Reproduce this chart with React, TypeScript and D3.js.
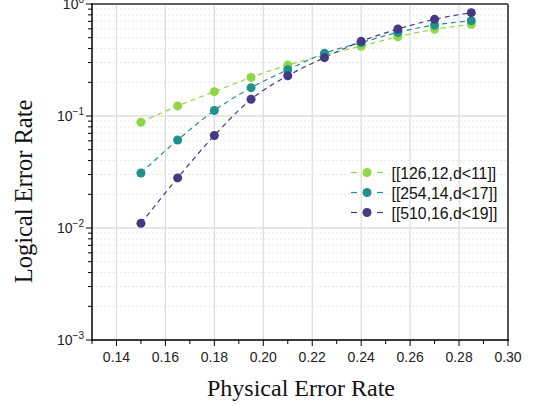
import React from "react";
import * as d3 from "d3";

const xs = [0.15, 0.165, 0.18, 0.195, 0.21, 0.225, 0.24, 0.255, 0.27, 0.285];
const s126 = [0.088, 0.123, 0.165, 0.221, 0.285, 0.35, 0.42, 0.51, 0.594, 0.659];
const s254 = [0.031, 0.061, 0.112, 0.179, 0.259, 0.363, 0.452, 0.558, 0.649, 0.71];
const s510 = [0.011, 0.028, 0.067, 0.141, 0.229, 0.332, 0.464, 0.598, 0.73, 0.837];
const labels = ["[[126,12,d<11]]", "[[254,14,d<17]]", "[[510,16,d<19]]"];
const colors = ["#8fd744", "#21918c", "#443983"];
const xTicks = [0.14, 0.16, 0.18, 0.2, 0.22, 0.24, 0.26, 0.28, 0.3];
const yDecades = [0, -1, -2, -3];

export default function App() {
  const W = 539, H = 406;
  const L = 92, R = 508, T = 4, B = 340;
  const x = d3.scaleLinear().domain([0.13, 0.3]).range([L, R]);
  const y = d3.scaleLog().domain([1e-3, 1]).range([B, T]);
  const series = [s126, s254, s510];
  const line = d3.line<number>().x((_, i) => x(xs[i])).y((v) => y(v)).curve(d3.curveMonotoneX);
  const minorY: number[] = [];
  for (let e = -3; e < 0; e++) for (let k = 2; k <= 9; k++) minorY.push(k * Math.pow(10, e));
  const minorX = d3.range(13, 31).map((v) => v / 100);
  const sans = "Liberation Sans, Arial, sans-serif";
  const serif = "Liberation Serif, Times New Roman, serif";
  return (
    <svg width={W} height={H} style={{ position: "absolute", left: 0, top: 0 }}>
      <rect width={W} height={H} fill="#fff" />
      {minorY.map((v, i) => (
        <line key={"my" + i} x1={L} x2={R} y1={y(v)} y2={y(v)} stroke="#e3e3e3" strokeWidth={0.8} strokeDasharray="2,2" />
      ))}
      {yDecades.map((e) => (
        <line key={"gy" + e} x1={L} x2={R} y1={y(Math.pow(10, e))} y2={y(Math.pow(10, e))} stroke="#cfcfcf" strokeWidth={1} />
      ))}
      {xTicks.map((t) => (
        <line key={"gx" + t} x1={x(t)} x2={x(t)} y1={T} y2={B} stroke="#dcdcdc" strokeWidth={1.2} />
      ))}
      {series.map((s, si) => (
        <path key={"l" + si} d={line(s) || ""} fill="none" stroke={colors[si]} strokeWidth={1.2} strokeDasharray="5,4" />
      ))}
      {series.map((s, si) =>
        s.map((v, i) => <circle key={"c" + si + "-" + i} cx={x(xs[i])} cy={y(v)} r={4.5} fill={colors[si]} />)
      )}
      {/* frame */}
      <line x1={L} x2={R} y1={T} y2={T} stroke="#333" strokeWidth={1.5} />
      <line x1={R} x2={R} y1={T} y2={B} stroke="#555" strokeWidth={2} />
      <line x1={L} x2={L} y1={T - 0.75} y2={B + 0.75} stroke="#000" strokeWidth={1.5} />
      <line x1={L} x2={R + 1} y1={B} y2={B} stroke="#000" strokeWidth={1.5} />
      {/* x ticks */}
      {minorX.map((t, i) => (
        <line key={"tx" + i} x1={x(t)} x2={x(t)} y1={B} y2={B + (Math.round(t * 100) % 2 === 0 ? 6 : 4)} stroke="#000" strokeWidth={1} />
      ))}
      {xTicks.map((t) => (
        <text key={"xl" + t} x={x(t)} y={362} fontFamily={sans} fontSize={14} textAnchor="middle" fill="#222">
          {t.toFixed(2)}
        </text>
      ))}
      {/* y ticks */}
      {minorY.map((v, i) => (
        <line key={"ty" + i} x1={L - 4} x2={L} y1={y(v)} y2={y(v)} stroke="#000" strokeWidth={1} />
      ))}
      {yDecades.map((e) => (
        <g key={"yl" + e}>
          <line x1={L - 6} x2={L} y1={y(Math.pow(10, e))} y2={y(Math.pow(10, e))} stroke="#000" strokeWidth={1} />
          <text x={L - 8} y={y(Math.pow(10, e)) + 5} fontFamily={sans} fontSize={14} textAnchor="end" fill="#222">
            10
            <tspan dy={-6} fontSize={10}>{e === 0 ? "0" : "\u2212" + -e}</tspan>
          </text>
        </g>
      ))}
      {/* axis titles */}
      <text x={301} y={396} fontFamily={serif} fontSize={24} textAnchor="middle" fill="#111">
        Physical Error Rate
      </text>
      <text transform={`translate(32,191.5) rotate(-90)`} fontFamily={serif} fontSize={24.5} textAnchor="middle" fill="#111">
        Logical Error Rate
      </text>
      {/* legend */}
      {labels.map((lb, i) => {
        const ly = 172.5 + i * 20;
        return (
          <g key={"lg" + i}>
            <line x1={351} x2={357} y1={ly} y2={ly} stroke={colors[i]} strokeWidth={1.2} />
            <line x1={377} x2={383} y1={ly} y2={ly} stroke={colors[i]} strokeWidth={1.2} />
            <circle cx={367} cy={ly} r={4.5} fill={colors[i]} />
            <text x={391.5} y={ly + 6} fontFamily={sans} fontSize={15.8} fill="#111">
              {lb}
            </text>
          </g>
        );
      })}
    </svg>
  );
}
